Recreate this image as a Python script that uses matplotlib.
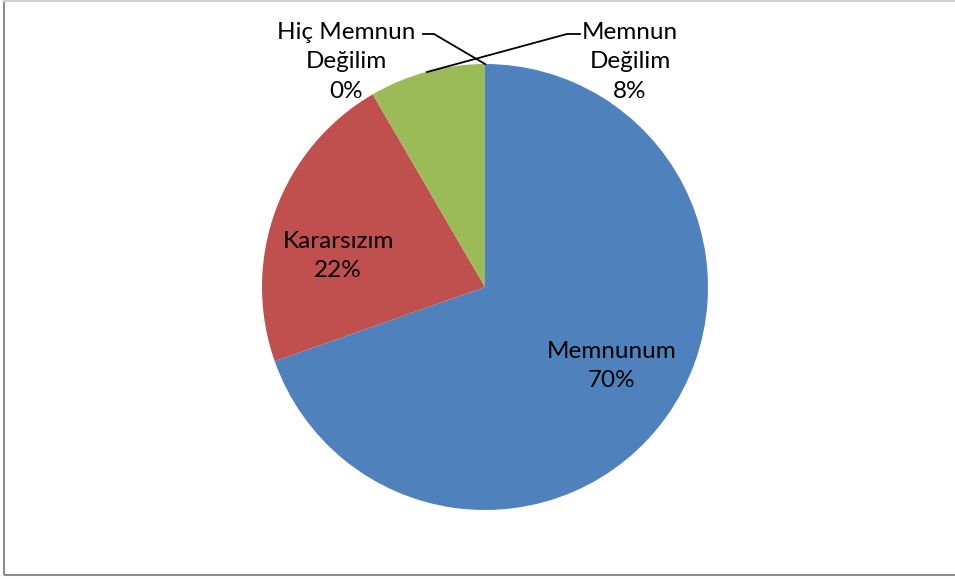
import matplotlib.pyplot as plt
from matplotlib.patches import Rectangle

# survey answers, clockwise from 12 o'clock (shares)
categories = ['Memnunum', 'Kararsızım', 'Memnun Değilim', 'Hiç Memnun Değilim']
shares = [69.6, 22.0, 8.4, 0.0]
colors = ['#4F81BD', '#C0504D', '#9BBB59', '#8064A2']

W, H = 955, 579
fig = plt.figure(figsize=(W / 100, H / 100), dpi=100)
ax = fig.add_axes([0, 0, 1, 1])

# pixel coords from the top-left -> data coords
def P(x, y):
    return (x, H - y)

ax.pie(shares, colors=colors, startangle=90, counterclock=False,
       center=P(485, 287), radius=223, frame=True,
       wedgeprops=dict(linewidth=0))
ax.set_xlim(0, W)
ax.set_ylim(0, H)
ax.set_aspect('equal')
ax.axis('off')

fam = ['Lato', 'DejaVu Sans']
fs = 17.5

def lab(i, x, y):
    name = categories[i]
    if name == 'Memnun Değilim':
        name = 'Memnun\nDeğilim'
    elif name == 'Hiç Memnun Değilim':
        name = 'Hiç Memnun\nDeğilim'
    ax.text(*P(x, y), f"{name}\n{round(shares[i])}%", ha='center', va='center',
            fontsize=fs, family=fam, linespacing=1.5, color='black')

lab(0, 612, 366)
lab(1, 338, 256)
lab(2, 630, 62)
lab(3, 346, 62)

# leader lines
ax.plot(*zip(P(423, 34), P(434, 34), P(485, 64)), color='black', lw=1.3)
ax.plot(*zip(P(427, 72), P(567, 34), P(580, 34)), color='black', lw=1.3)

# chart border
ax.add_patch(Rectangle(P(4, 575), W, 575, fill=False,
                       edgecolor='#8c8c8c', lw=1.5, clip_on=False))
ax.plot([4, W], [H - 0.5, H - 0.5], color='#d0d0d0', lw=1.5)

fig.savefig('out.png', dpi=100)
